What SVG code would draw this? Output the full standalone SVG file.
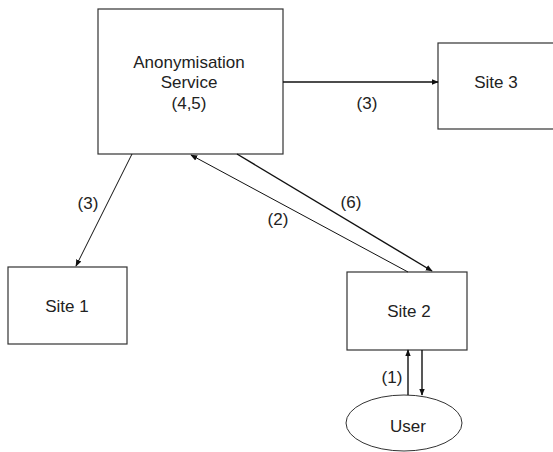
<svg xmlns="http://www.w3.org/2000/svg" width="553" height="452" viewBox="0 0 553 452">
<style>
.box{fill:#fff;stroke:#333;stroke-width:1.2}
.t{font-family:"Liberation Sans",Arial,sans-serif;font-size:17px;fill:#222;text-anchor:middle}
.c{stroke:#111;stroke-width:1.4;fill:none;marker-end:url(#ah)}
.thin{stroke-width:1}
</style>
<defs>
<marker id="ah" viewBox="0 0 10 10" refX="9" refY="5" markerWidth="7" markerHeight="7" markerUnits="userSpaceOnUse" orient="auto">
<path d="M0,1 L10,5 L0,9 Z" fill="#111"/>
</marker>
</defs>
<rect width="553" height="452" fill="#fff"/>
<g id="anon">
<rect class="box" x="98" y="9" width="185" height="145"/>
<text class="t" x="189" y="68">Anonymisation</text>
<text class="t" x="189" y="88">Service</text>
<text class="t" x="189" y="109">(4,5)</text>
</g>
<g id="site3">
<rect class="box" x="438" y="43" width="116" height="86"/>
<text class="t" x="496" y="88">Site 3</text>
</g>
<g id="site1">
<rect class="box" x="8" y="267" width="119" height="77"/>
<text class="t" x="67" y="312">Site 1</text>
</g>
<g id="site2">
<rect class="box" x="347" y="272" width="120" height="78"/>
<text class="t" x="409" y="317">Site 2</text>
</g>
<g id="user">
<ellipse cx="404" cy="423" rx="58" ry="28" fill="#fff" stroke="#333" stroke-width="1"/>
<text class="t" x="408" y="432">User</text>
</g>
<g id="connectors">
<line class="c" x1="283" y1="82" x2="438" y2="82"/>
<line class="c thin" x1="132" y1="154" x2="76" y2="266"/>
<line class="c thin" x1="408" y1="272" x2="191" y2="155"/>
<line class="c" x1="237" y1="154" x2="432" y2="271"/>
<line class="c" x1="408" y1="395" x2="408" y2="350"/>
<line class="c" x1="422" y1="350" x2="422" y2="395"/>
<text class="t" x="367" y="109">(3)</text>
<text class="t" x="88" y="209">(3)</text>
<text class="t" x="351" y="208">(6)</text>
<text class="t" x="278" y="225">(2)</text>
<text class="t" x="392" y="383">(1)</text>
</g>
</svg>
